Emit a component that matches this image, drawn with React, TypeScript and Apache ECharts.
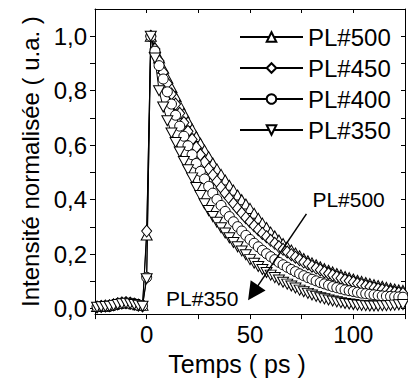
import React, { useEffect, useRef } from "react";
import * as echarts from "echarts";

// Time axis (ps)
const times = [
  -24, -22, -20, -18, -16, -14, -12, -10, -8, -6, -4, -2, 0,
  2, 4, 6, 8, 10, 12, 14, 16, 18, 20, 22, 24, 26, 28, 30, 32, 34, 36, 38, 40,
  42, 44, 46, 48, 50, 52, 54, 56, 58, 60, 62, 64, 66, 68, 70, 72, 74, 76, 78, 80,
  82, 84, 86, 88, 90, 92, 94, 96, 98, 100, 102, 104, 106, 108, 110, 112, 114, 116, 118, 120,
  122, 124,
];

const pl500 = [
  0.008, 0.01, 0.009, 0.012, 0.016, 0.02, 0.022, 0.024, 0.022, 0.018, 0.014, 0.012, 0.27,
  1.0, 0.959, 0.92, 0.882, 0.846, 0.812, 0.779, 0.747, 0.717, 0.687, 0.659, 0.632, 0.607, 0.582, 0.558, 0.535, 0.513, 0.493, 0.472, 0.453,
  0.435, 0.417, 0.4, 0.384, 0.368, 0.35, 0.332, 0.314, 0.298, 0.281, 0.267, 0.252, 0.239, 0.227, 0.215, 0.204, 0.194, 0.184, 0.176, 0.168,
  0.161, 0.154, 0.147, 0.141, 0.135, 0.129, 0.124, 0.118, 0.114, 0.109, 0.104, 0.1, 0.096, 0.092, 0.088, 0.085, 0.082, 0.078, 0.075, 0.072,
  0.069, 0.067,
];

const pl450 = [
  0.006, 0.008, 0.01, 0.011, 0.014, 0.018, 0.021, 0.022, 0.02, 0.017, 0.013, 0.01, 0.285,
  1.0, 0.953, 0.909, 0.867, 0.827, 0.788, 0.751, 0.717, 0.683, 0.651, 0.621, 0.592, 0.565, 0.538, 0.513, 0.49, 0.467, 0.445, 0.424, 0.405,
  0.386, 0.368, 0.351, 0.334, 0.319, 0.304, 0.29, 0.276, 0.264, 0.251, 0.24, 0.228, 0.218, 0.208, 0.198, 0.189, 0.18, 0.171, 0.164, 0.156,
  0.149, 0.142, 0.135, 0.129, 0.123, 0.117, 0.112, 0.106, 0.102, 0.097, 0.092, 0.088, 0.084, 0.08, 0.076, 0.073, 0.07, 0.066, 0.063, 0.06,
  0.058, 0.056,
];

const pl400 = [
  0.007, 0.009, 0.008, 0.01, 0.013, 0.017, 0.019, 0.021, 0.019, 0.016, 0.012, 0.011, 0.115,
  1.0, 0.945, 0.892, 0.843, 0.796, 0.751, 0.71, 0.67, 0.633, 0.598, 0.565, 0.533, 0.504, 0.476, 0.449, 0.424, 0.401, 0.379, 0.357, 0.338,
  0.319, 0.301, 0.285, 0.269, 0.254, 0.24, 0.227, 0.214, 0.202, 0.191, 0.18, 0.17, 0.161, 0.152, 0.144, 0.136, 0.128, 0.121, 0.114, 0.108,
  0.102, 0.096, 0.091, 0.086, 0.081, 0.077, 0.073, 0.069, 0.066, 0.063, 0.06, 0.057, 0.055, 0.053, 0.051, 0.049, 0.047, 0.046, 0.045, 0.044,
  0.043, 0.042,
];

const pl350 = [
  0.005, 0.007, 0.008, 0.009, 0.012, 0.015, 0.018, 0.02, 0.018, 0.015, 0.012, 0.009, 0.11,
  1.0, 0.92, 0.8, 0.74, 0.69, 0.645, 0.61, 0.575, 0.54, 0.51, 0.48, 0.445, 0.415, 0.385, 0.36, 0.338, 0.317, 0.297, 0.278, 0.26,
  0.243, 0.227, 0.212, 0.198, 0.18, 0.167, 0.155, 0.144, 0.133, 0.123, 0.114, 0.105, 0.097, 0.09, 0.083, 0.076, 0.068, 0.062, 0.056, 0.05,
  0.045, 0.04, 0.036, 0.032, 0.028, 0.025, 0.022, 0.019, 0.017, 0.015, 0.013, 0.012, 0.011, 0.01, 0.01, 0.01, 0.011, 0.011, 0.012, 0.013,
  0.014, 0.015,
];

const seriesNames = ["PL#500", "PL#450", "PL#400", "PL#350"];

const xTicks = [-25, 0, 25, 50, 75, 100, 125];
const xLabels = [0, 50, 100];
const yTicks = [0, 0.1, 0.2, 0.3, 0.4, 0.5, 0.6, 0.7, 0.8, 0.9, 1.0];
const yLabels = [0, 0.2, 0.4, 0.6, 0.8, 1.0];

// Annotation (data coordinates)
const arrowStart = [77.3, 0.348];
const arrowEnd = [51.5, 0.058];
const annot500 = [97.7, 0.402];
const annot350 = [26.9, 0.037];

const FONT = "'Liberation Sans', Arial, Helvetica, sans-serif";

function pairs(vals: number[]) {
  return times.map((t, i) => [t, vals[i]]);
}

export default function App() {
  const ref = useRef<HTMLDivElement>(null);
  useEffect(() => {
    if (!ref.current) return;
    const chart = echarts.init(ref.current, null, { renderer: "svg" });
    const markerStyle = { color: "#fff", borderColor: "#000", borderWidth: 1 };
    const lineStyle = { color: "#000", width: 1 };
    const common = {
      type: "line",
      showSymbol: true,
      showAllSymbol: true,
      itemStyle: markerStyle,
      lineStyle,
      emphasis: { disabled: true },
      animation: false,
    };
    const option: any = {
      animation: false,
      textStyle: { fontFamily: FONT, color: "#000" },
      grid: { left: 95, right: 3, top: 9, bottom: 62, containLabel: false },
      legend: {
        orient: "vertical",
        left: 239,
        top: 25,
        padding: 0,
        itemWidth: 63,
        itemHeight: 12,
        itemGap: 7,
        selectedMode: false,
        textStyle: { fontSize: 24, color: "#000", fontFamily: FONT, lineHeight: 24 },
        data: seriesNames,
      },
      xAxis: [
        {
          type: "value",
          min: -25,
          max: 125,
          position: "bottom",
          axisLine: { show: true, onZero: false, lineStyle: { color: "#000", width: 1 } },
          axisTick: { show: true, inside: false, length: 5, customValues: xTicks, lineStyle: { color: "#000" } },
          axisLabel: {
            customValues: xLabels,
            fontSize: 24,
            color: "#000",
            margin: 8,
            fontFamily: FONT,
          },
          splitLine: { show: false },
          name: "Temps ( ps )",
          nameLocation: "middle",
          nameGap: 27,
          nameTextStyle: { fontSize: 25, color: "#000", fontFamily: FONT, padding: [0, 26, 0, 0] },
        },
        {
          type: "value",
          min: -25,
          max: 125,
          position: "top",
          axisLine: { show: true, onZero: false, lineStyle: { color: "#000", width: 1 } },
          axisTick: { show: true, inside: true, length: 4, customValues: xTicks, lineStyle: { color: "#000" } },
          axisLabel: { show: false },
          splitLine: { show: false },
        },
      ],
      yAxis: [
        {
          type: "value",
          min: -0.02,
          max: 1.1,
          position: "left",
          axisLine: { show: true, onZero: false, lineStyle: { color: "#000", width: 1 } },
          axisTick: { show: true, inside: false, length: 5, customValues: yTicks, lineStyle: { color: "#000" } },
          axisLabel: {
            customValues: yLabels,
            fontSize: 24,
            color: "#000",
            margin: 8,
            fontFamily: FONT,
            formatter: (v: number) => v.toFixed(1).replace(".", ","),
          },
          splitLine: { show: false },
          name: "Intensité normalisée ( u.a. )",
          nameLocation: "middle",
          nameGap: 53,
          nameTextStyle: { fontSize: 24, color: "#000", fontFamily: FONT },
        },
        {
          type: "value",
          min: -0.02,
          max: 1.1,
          position: "right",
          axisLine: { show: true, onZero: false, lineStyle: { color: "#000", width: 1 } },
          axisTick: { show: true, inside: true, length: 4, customValues: yTicks, lineStyle: { color: "#000" } },
          axisLabel: { show: false },
          splitLine: { show: false },
        },
      ],
      series: [
        { ...common, name: seriesNames[0], symbol: "triangle", symbolSize: [11, 10], data: pairs(pl500) },
        { ...common, name: seriesNames[1], symbol: "diamond", symbolSize: [10, 12], data: pairs(pl450) },
        { ...common, name: seriesNames[2], symbol: "circle", symbolSize: 10, data: pairs(pl400) },
        {
          ...common,
          name: seriesNames[3],
          symbol: "triangle",
          symbolRotate: 180,
          symbolSize: [11, 10],
          data: pairs(pl350),
          markLine: {
            silent: true,
            animation: false,
            symbol: ["none", "triangle"],
            symbolSize: 18,
            label: { show: false },
            lineStyle: { color: "#000", width: 1.5, type: "solid" },
            itemStyle: { color: "#000" },
            emphasis: { disabled: true },
            data: [[{ coord: arrowStart }, { coord: arrowEnd }]],
          },
          markPoint: {
            silent: true,
            animation: false,
            symbol: "rect",
            symbolSize: 0,
            itemStyle: { color: "transparent" },
            label: {
              show: true,
              position: "inside",
              fontSize: 21,
              color: "#000",
              fontFamily: FONT,
              formatter: (p: any) => p.name,
            },
            data: [
              { name: "PL#500", coord: annot500 },
              { name: "PL#350", coord: annot350 },
            ],
          },
        },
      ],
    };
    chart.setOption(option);
    return () => chart.dispose();
  }, []);
  return (
    <div
      ref={ref}
      style={{ position: "fixed", left: 0, top: 0, width: 408, height: 381, background: "#fff" }}
    />
  );
}
